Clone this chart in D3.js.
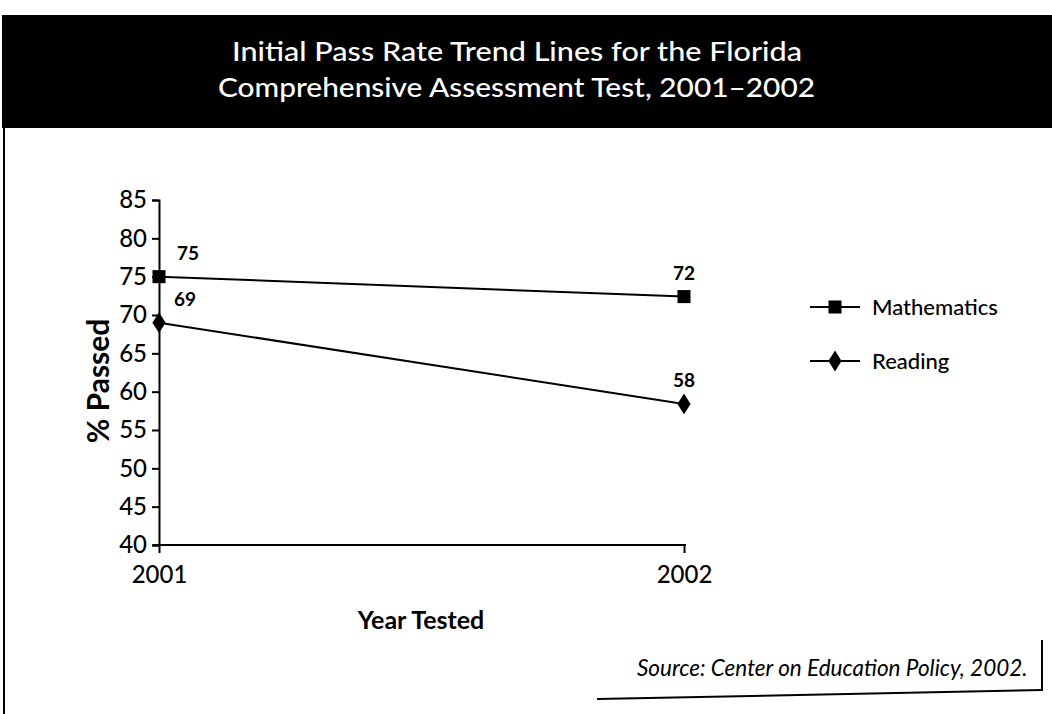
<!DOCTYPE html>
<html>
<head>
<meta charset="utf-8">
<script src="https://cdn.jsdelivr.net/npm/d3@7"></script>
<style>
html,body{margin:0;padding:0;background:#fff;}
svg{display:block;}
text{font-family:"Lato","Open Sans",sans-serif;}
</style>
</head>
<body>
<svg id="chart" width="1052" height="714"></svg>
<script>
const titleLines = ["Initial Pass Rate Trend Lines for the Florida", "Comprehensive Assessment Test, 2001\u20132002"];
const years = ["2001", "2002"];
const mathValues = [75, 72.4];
const readingValues = [69, 58.4];
const mathLabels = ["75", "72"];
const readingLabels = ["69", "58"];
const yTicks = [40, 45, 50, 55, 60, 65, 70, 75, 80, 85];
const seriesNames = ["Mathematics", "Reading"];
const yTitle = "% Passed";
const xTitle = "Year Tested";
const sourceText = "Source: Center on Education Policy, 2002.";

const svg = d3.select("#chart");
const FONT = "Lato, 'Open Sans', sans-serif";

// header
svg.append("rect").attr("x", 2).attr("y", 15).attr("width", 1050).attr("height", 113).attr("fill", "#000");
const titleX = [232, 218];
const titleW = [570, 597];
svg.append("g").selectAll("text").data(titleLines).join("text")
  .attr("x", (d, i) => titleX[i]).attr("y", (d, i) => 61 + i * 36)
  .attr("fill", "#fff").attr("font-size", 26).attr("font-weight", 500)
  .attr("textLength", (d, i) => titleW[i]).attr("lengthAdjust", "spacingAndGlyphs")
  .text(d => d);

// frame lines
svg.append("line").attr("x1", 4).attr("x2", 4).attr("y1", 128).attr("y2", 714).attr("stroke", "#000").attr("stroke-width", 2);
svg.append("line").attr("x1", 597).attr("x2", 1043).attr("y1", 699).attr("y2", 690).attr("stroke", "#000").attr("stroke-width", 2);
svg.append("line").attr("x1", 1042).attr("x2", 1042).attr("y1", 640).attr("y2", 691).attr("stroke", "#000").attr("stroke-width", 2);

const x = d3.scalePoint().domain(years).range([159, 684]);
const y = d3.scaleLinear().domain([40, 85]).range([545, 200]);

// y axis
const yAxis = svg.append("g").attr("transform", "translate(159,0)")
  .call(d3.axisLeft(y).tickValues(yTicks).tickSize(7).tickPadding(5));
yAxis.select(".domain").attr("stroke", "#000").attr("stroke-width", 2);
yAxis.selectAll(".tick line").attr("stroke", "#000").attr("stroke-width", 2);
yAxis.selectAll(".tick text").attr("font-size", 24).attr("font-weight", 500).attr("fill", "#000").attr("font-family", FONT);

// x axis
const xAxis = svg.append("g").attr("transform", "translate(0,545)")
  .call(d3.axisBottom(x).tickSize(8).tickSizeOuter(0).tickPadding(13));
xAxis.select(".domain").attr("stroke", "#000").attr("stroke-width", 2).attr("d", "M153,0H686");
xAxis.selectAll(".tick line").attr("stroke", "#000").attr("stroke-width", 2);
xAxis.selectAll(".tick text").attr("font-size", 24).attr("font-weight", 500).attr("fill", "#000").attr("font-family", FONT);

// axis titles
svg.append("text").attr("transform", "translate(109,381) rotate(-90)").attr("text-anchor", "middle")
  .attr("font-size", 30).attr("font-weight", "bold").text(yTitle);
svg.append("text").attr("x", 421).attr("y", 629).attr("text-anchor", "middle")
  .attr("font-size", 25).attr("font-weight", "bold").text(xTitle);

const line = d3.line().x((d, i) => x(years[i])).y(d => y(d));
const square = d3.symbol().type(d3.symbolSquare).size(170);
const diamond = d3.symbol().type(d3.symbolDiamond).size(125);

function drawSeries(vals, labels, sym, labelDx) {
  svg.append("path").datum(vals).attr("d", line).attr("fill", "none").attr("stroke", "#000").attr("stroke-width", 2);
  svg.selectAll(null).data(vals).join("path")
    .attr("d", sym).attr("transform", (d, i) => `translate(${x(years[i])},${y(d)})${sym === diamond ? " scale(1.1,1)" : ""}`)
    .attr("fill", "#000");
  svg.selectAll(null).data(vals).join("text")
    .attr("x", (d, i) => x(years[i]) + labelDx[i]).attr("y", d => y(d) - 17)
    .attr("text-anchor", "middle").attr("font-size", 19).attr("font-weight", "bold")
    .text((d, i) => labels[i]);
}
drawSeries(mathValues, mathLabels, square, [29, 0]);
drawSeries(readingValues, readingLabels, diamond, [26, 0]);

// legend
const legendY = [307, 361];
const legendSyms = [square, diamond];
seriesNames.forEach((name, i) => {
  svg.append("line").attr("x1", 810).attr("x2", 860).attr("y1", legendY[i]).attr("y2", legendY[i]).attr("stroke", "#000").attr("stroke-width", 2);
  svg.append("path").attr("d", legendSyms[i]).attr("fill", "#000")
    .attr("transform", `translate(835,${legendY[i]})${i === 1 ? " scale(1.1,1)" : ""}`);
  svg.append("text").attr("x", 872).attr("y", legendY[i] + 8).attr("font-size", 22).attr("font-weight", 500).text(name);
});

// source
svg.append("text").attr("x", 637).attr("y", 676).attr("font-size", 22.5).attr("font-style", "italic").text(sourceText);
</script>
</body>
</html>
